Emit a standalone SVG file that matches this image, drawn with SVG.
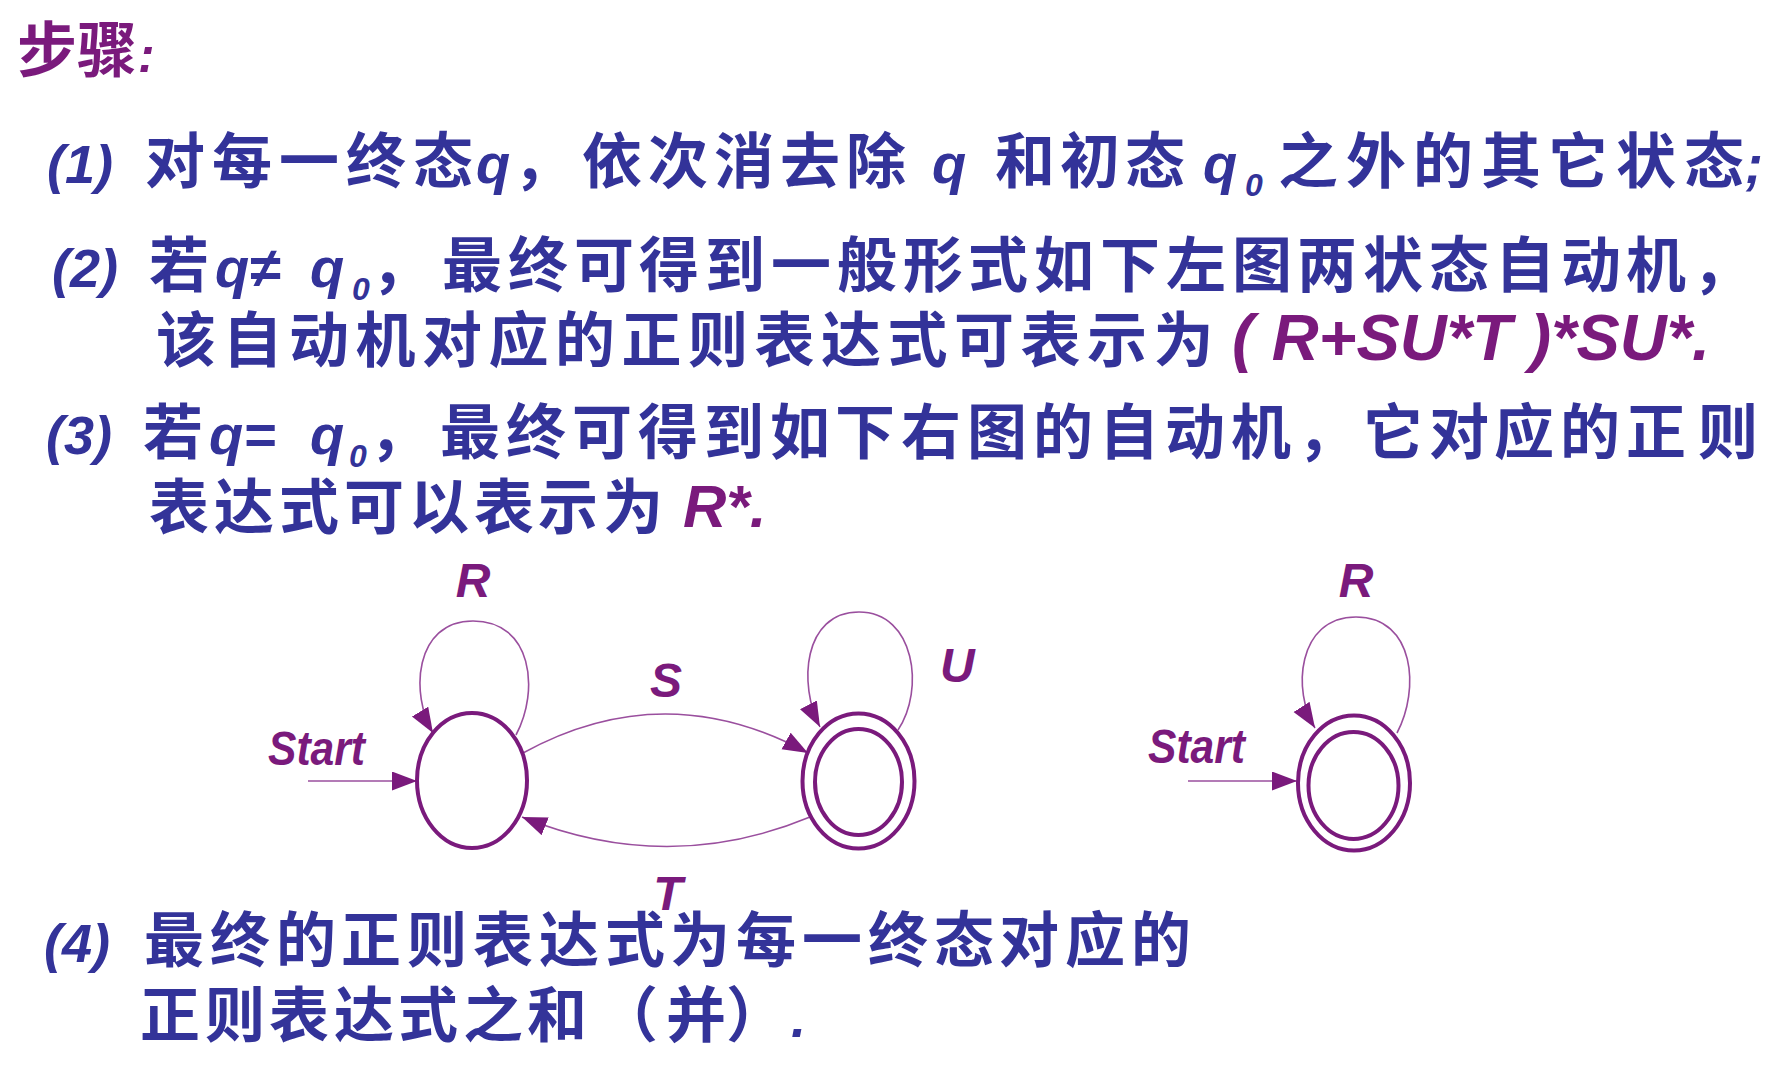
<svg xmlns="http://www.w3.org/2000/svg" width="1784" height="1072" viewBox="0 0 1784 1072">
<defs>
<style>
.cn{font-family:"Noto Sans CJK SC","Noto Sans CJK TC",sans-serif;font-weight:700;font-size:60px;fill:#333399}
.lat{font-family:"Liberation Sans",Arial,sans-serif;font-weight:700;font-style:italic;fill:#333399}
.pu{fill:#7a1a7c}
.lbl{font-family:"Liberation Sans",Arial,sans-serif;font-weight:700;font-style:italic;font-size:48px;fill:#7a1a7c}
.st{fill:none;stroke:#7a1a7c;stroke-width:4}
.cx{fill:none;stroke:#9a4f9e;stroke-width:1.6}
</style>
<marker id="ah" markerUnits="userSpaceOnUse" markerWidth="26" markerHeight="20" refX="25" refY="9.5" orient="auto">
<path d="M0,0 L25,9.5 L0,19 z" fill="#7a1a7c"/>
</marker>
</defs>
<rect width="1784" height="1072" fill="#ffffff"/>

<g id="title">
<text class="cn" x="17" y="72" style="fill:#7a1a7c">步骤</text>
<text class="lat pu" x="138" y="72" font-size="50">:</text>
</g>

<g id="step1">
<text class="lat" x="47" y="183" font-size="54">(1)</text>
<text class="cn" x="145 212 279 346 413" y="183">对每一终态</text>
<text class="lat" x="476" y="183" font-size="56">q</text>
<text class="cn" x="513" y="183">，</text>
<text class="cn" x="582 648 714 780 846" y="183">依次消去除</text>
<text class="lat" x="932" y="183" font-size="56">q</text>
<text class="cn" x="995 1060 1125" y="183">和初态</text>
<text class="lat" x="1203" y="183" font-size="56">q<tspan x="1245" y="196" font-size="32">0</tspan></text>
<text class="cn" x="1278 1346 1413 1481 1548 1616 1684" y="183">之外的其它状态</text>
<text class="lat" x="1745" y="183" font-size="54">;</text>
</g>

<g id="step2">
<text class="lat" x="52" y="287" font-size="54">(2)</text>
<text class="cn" x="149" y="287">若</text>
<text class="lat" x="215" y="287" font-size="56">q≠<tspan x="310">q</tspan><tspan x="352" y="300" font-size="32">0</tspan></text>
<text class="cn" x="371" y="287">，</text>
<text class="cn" x="442 508 574 639 705 771 837 903 968 1034 1100 1166 1232 1297 1363 1429 1495 1561 1626 1692" y="287">最终可得到一般形式如下左图两状态自动机，</text>
<text class="cn" x="156 222.5 289 355.5 422 488.5 555 621.5 688 754.5 821 887.5 954 1020.5 1087 1153.5" y="362">该自动机对应的正则表达式可表示为</text>
<text class="lat pu" x="1232" y="360" font-size="64" textLength="478" lengthAdjust="spacingAndGlyphs">( R+SU*T )*SU*.</text>
</g>

<g id="step3">
<text class="lat" x="46" y="454" font-size="54">(3)</text>
<text class="cn" x="143" y="454">若</text>
<text class="lat" x="209" y="454" font-size="56">q=<tspan x="310">q</tspan><tspan x="349" y="467" font-size="32">0</tspan></text>
<text class="cn" x="369" y="454">，</text>
<text class="cn" x="440 506 572 638 704 770 835 901 967 1033 1099 1165 1231 1297 1363 1429 1494 1560 1626 1698" y="454">最终可得到如下右图的自动机，它对应的正则</text>
<text class="cn" x="149 214 279 344 409 474 538 603" y="529">表达式可以表示为</text>
<text class="lat pu" x="683" y="527" font-size="60">R*.</text>
</g>

<g id="connectors">
<path class="cx" d="M308,781 L417,781" marker-end="url(#ah)"/>
<path class="cx" d="M516,735 C540,690 532,621 473,621 C414,621 410,695 433,733" marker-end="url(#ah)"/>
<path class="cx" d="M523,753 Q665,675 808,753" marker-end="url(#ah)"/>
<path class="cx" d="M810,817 Q668,876 522,817" marker-end="url(#ah)"/>
<path class="cx" d="M898,730 C925,690 915,612 859,612 C803,612 798,685 820,727" marker-end="url(#ah)"/>
<path class="cx" d="M1188,781 L1297,781" marker-end="url(#ah)"/>
<path class="cx" d="M1397,733 C1420,690 1415,617 1356,617 C1297,617 1292,692 1315,728" marker-end="url(#ah)"/>
</g>

<g id="node-start-left">
<ellipse class="st" cx="472" cy="780.5" rx="55" ry="67.5"/>
</g>
<g id="node-final-left">
<ellipse class="st" cx="858.5" cy="781" rx="56" ry="67.5"/>
<ellipse class="st" cx="858.5" cy="782" rx="43.5" ry="53"/>
</g>
<g id="node-right">
<ellipse class="st" cx="1354" cy="783" rx="56" ry="67.5"/>
<ellipse class="st" cx="1353.5" cy="785.5" rx="45" ry="53.5"/>
</g>

<g id="labels">
<text class="lbl" x="268" y="765" font-size="52" textLength="97" lengthAdjust="spacingAndGlyphs">Start</text>
<text class="lbl" x="1148" y="763" font-size="52" textLength="97" lengthAdjust="spacingAndGlyphs">Start</text>
<text class="lbl" x="473" y="597" text-anchor="middle">R</text>
<text class="lbl" x="1356" y="597" text-anchor="middle">R</text>
<text class="lbl" x="666" y="697" text-anchor="middle">S</text>
<text class="lbl" x="940" y="682">U</text>
<text class="lbl" x="668" y="910" text-anchor="middle">T</text>
</g>

<g id="step4">
<text class="lat" x="44" y="962" font-size="54">(4)</text>
<text class="cn" x="144 210 276 341 407 473 539 605 670 736 802 868 934 999 1065 1131" y="962">最终的正则表达式为每一终态对应的</text>
<text class="cn" x="140 205 269 334 398 463 527" y="1037">正则表达式之和</text>
<text class="cn" x="598" y="1037">（</text>
<text class="cn" x="666" y="1037">并</text>
<text class="cn" x="726" y="1037">）</text>
<text class="lat" x="791" y="1037" font-size="54">.</text>
</g>
</svg>
